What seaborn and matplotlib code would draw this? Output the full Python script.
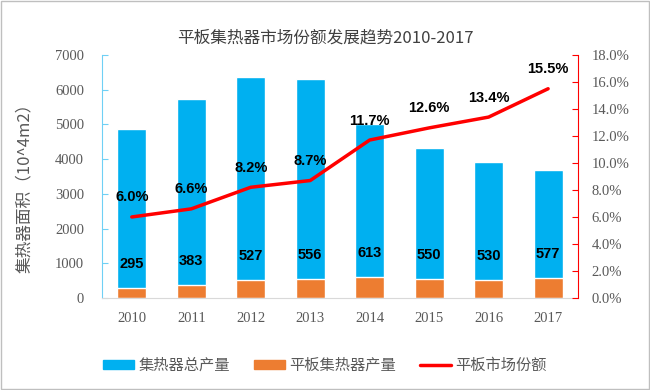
import numpy as np
import pandas as pd
import seaborn as sns
import matplotlib.pyplot as plt
from matplotlib.patches import Rectangle, Patch
from matplotlib.lines import Line2D

# data
years = ['2010', '2011', '2012', '2013', '2014', '2015', '2016', '2017']
total_output = [4880, 5740, 6370, 6320, 5000, 4320, 3920, 3690]
flat_output = [295, 383, 527, 556, 613, 550, 530, 577]
flat_share = [6.0, 6.6, 8.2, 8.7, 11.7, 12.6, 13.4, 15.5]

blue = '#00B0F0'
orange = '#ED7D31'
red = '#FF0000'
grey = '#595959'

sns.set_style('white')
plt.rcParams['font.family'] = ['Noto Sans CJK SC', 'DejaVu Sans']

df = pd.DataFrame({'year': years, 'total': total_output,
                   'flat': flat_output, 'share': flat_share})

fig = plt.figure(figsize=(6.5, 3.9), dpi=100)
ax = fig.add_axes([0.157, 0.236, 0.732, 0.623])

sns.barplot(data=df, x='year', y='total', color=blue, width=0.49,
            saturation=1, ax=ax)
sns.barplot(data=df, x='year', y='flat', color=orange, width=0.49,
            saturation=1, ax=ax)

ax.set_xlim(-0.5, len(years) - 0.5)
ax.set_ylim(0, 7000)
ax.set_yticks(np.arange(0, 7001, 1000))
ax.set_xlabel('')
ax.set_ylabel('集热器面积（10^4m2）', color=grey, fontsize=12, labelpad=8)
ax.yaxis.set_label_coords(-0.145, 0.47)

for lab in ax.get_yticklabels() + ax.get_xticklabels():
    lab.set_fontfamily('Liberation Serif')
    lab.set_fontsize(10.5)
    lab.set_color(grey)
ax.tick_params(axis='y', direction='in', length=4, color='#6FD0F5', pad=13)
ax.tick_params(axis='x', length=0, pad=10)

for s in ['top', 'right']:
    ax.spines[s].set_visible(False)
ax.spines['left'].set_color('#6FD0F5')
ax.spines['bottom'].set_color('#D9D9D9')

# labels on the orange bars
for i, v in enumerate(flat_output):
    ax.annotate(str(v), (i, v), xytext=(0, 12), textcoords='offset points',
                ha='center', va='bottom', fontsize=10.5, fontweight='bold',
                family='Liberation Sans', color='black')

ax2 = ax.twinx()
sns.lineplot(data=df, x='year', y='share', color=red, linewidth=2.5,
             ax=ax2, sort=False)
ax2.set_ylim(0, 18)
ax2.set_yticks(np.arange(0, 18.1, 2))
ax2.set_yticklabels([f'{t:.1f}%' for t in np.arange(0, 18.1, 2)])
ax2.set_ylabel('')
for lab in ax2.get_yticklabels():
    lab.set_fontfamily('Liberation Serif')
    lab.set_fontsize(10.5)
    lab.set_color(grey)
ax2.tick_params(axis='y', direction='in', length=4, color=red, pad=10)
for s in ['top', 'left', 'bottom']:
    ax2.spines[s].set_visible(False)
ax2.spines['right'].set_color(red)

for i, v in enumerate(flat_share):
    ax2.annotate(f'{v:.1f}%', (i, v), xytext=(0, 9), textcoords='offset points',
                 ha='center', va='bottom', fontsize=10.5, fontweight='bold',
                 family='Liberation Sans', color='black')

fig.suptitle('平板集热器市场份额发展趋势2010-2017', y=0.925, fontsize=12,
             color='#404040')

handles = [Patch(color=blue), Patch(color=orange), Line2D([], [], color=red, lw=2.5)]
labels = ['集热器总产量', '平板集热器产量', '平板市场份额']
fig.legend(handles, labels, loc='center', bbox_to_anchor=(0.5, 0.063), ncol=3,
           frameon=False, fontsize=11, handlelength=2.0, handleheight=0.6,
           handletextpad=0.3, columnspacing=1.6, labelcolor=grey)

fig.patches.append(Rectangle((0.002, 0.003), 0.996, 0.994, transform=fig.transFigure,
                             fill=False, edgecolor='#BFBFBF', lw=1))

fig.savefig('out.png', dpi=100)
